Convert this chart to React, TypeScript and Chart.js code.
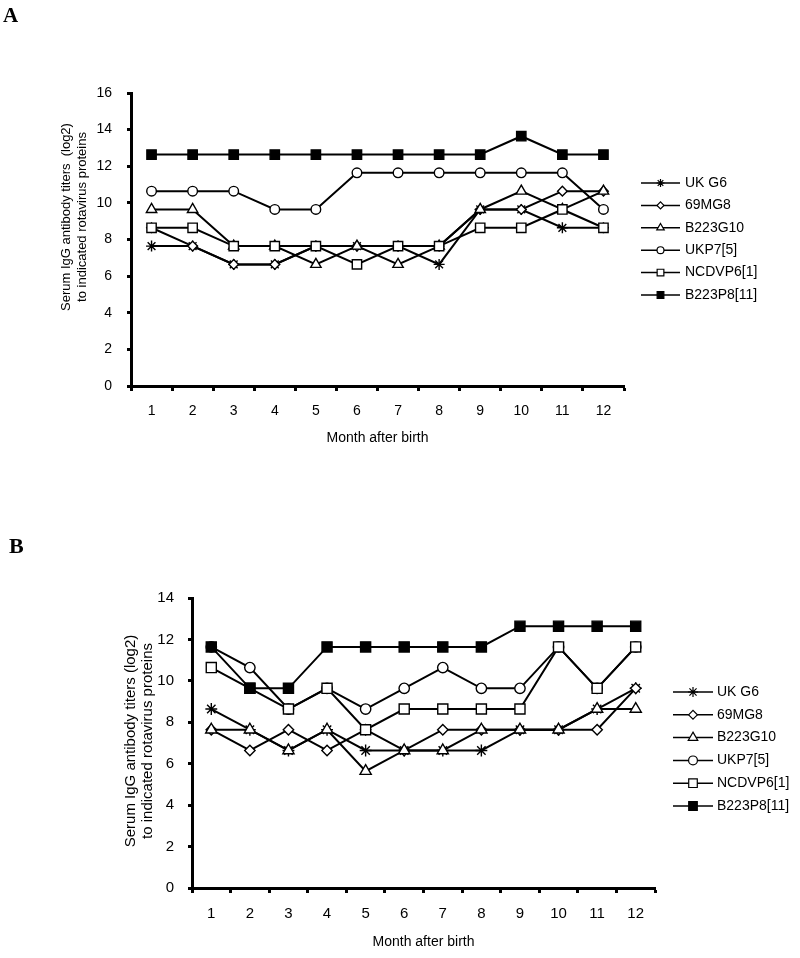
import React, { useEffect, useRef } from 'react';
import { Chart, registerables } from 'chart.js';
import { drawPoint } from 'chart.js/helpers';

Chart.register(...registerables);

const FONT = '"Liberation Sans", Arial, Helvetica, sans-serif';

// ---------- data ----------
const months = ['1', '2', '3', '4', '5', '6', '7', '8', '9', '10', '11', '12'];
const seriesNames = ['UK G6', '69MG8', 'B223G10', 'UKP7[5]', 'NCDVP6[1]', 'B223P8[11]'];
const yTitleLines = ['Serum IgG antibody titers  (log2)', 'to indicated rotavirus proteins'];
const xTitle = 'Month after birth';

// Panel A
const aUKG6 = [7.64, 7.64, 6.64, 6.64, 7.64, 7.64, 7.64, 6.64, 9.64, 9.64, 8.64, 8.64];
const a69MG8 = [8.64, 7.64, 6.64, 6.64, 7.64, 7.64, 7.64, 7.64, 9.64, 9.64, 10.64, 10.64];
const aB223G10 = [9.64, 9.64, 7.64, 7.64, 6.64, 7.64, 6.64, 7.64, 9.64, 10.64, 9.64, 10.64];
const aUKP7 = [10.64, 10.64, 10.64, 9.64, 9.64, 11.64, 11.64, 11.64, 11.64, 11.64, 11.64, 9.64];
const aNCDVP6 = [8.64, 8.64, 7.64, 7.64, 7.64, 6.64, 7.64, 7.64, 8.64, 8.64, 9.64, 8.64];
const aB223P8 = [12.64, 12.64, 12.64, 12.64, 12.64, 12.64, 12.64, 12.64, 12.64, 13.64, 12.64, 12.64];

// Panel B
const bUKG6 = [8.64, 7.64, 6.64, 7.64, 6.64, 6.64, 6.64, 6.64, 7.64, 7.64, 8.64, 9.64];
const b69MG8 = [7.64, 6.64, 7.64, 6.64, 7.64, 6.64, 7.64, 7.64, 7.64, 7.64, 7.64, 9.64];
const bB223G10 = [7.64, 7.64, 6.64, 7.64, 5.64, 6.64, 6.64, 7.64, 7.64, 7.64, 8.64, 8.64];
const bUKP7 = [11.64, 10.64, 8.64, 9.64, 8.64, 9.64, 10.64, 9.64, 9.64, 11.64, 9.64, 11.64];
const bNCDVP6 = [10.64, 9.64, 8.64, 9.64, 7.64, 8.64, 8.64, 8.64, 8.64, 11.64, 9.64, 11.64];
const bB223P8 = [11.64, 9.64, 9.64, 11.64, 11.64, 11.64, 11.64, 11.64, 12.64, 12.64, 12.64, 12.64];

const aYTicksMax = 16;
const bYTicksMax = 14;

// ---------- styles ----------
const markerStyles = [
  { pointStyle: 'star', radius: 5.5, fill: '#ffffff', order: 5 },
  { pointStyle: 'rectRot', radius: 4.8, fill: '#ffffff', order: 4 },
  { pointStyle: 'triangle', radius: 6, fill: '#ffffff', order: 3 },
  { pointStyle: 'circle', radius: 4.8, fill: '#ffffff', order: 2 },
  { pointStyle: 'rect', radius: 6.6, fill: '#ffffff', order: 1 },
  { pointStyle: 'rect', radius: 6.6, fill: '#000000', order: 0 },
];

const decorPlugin = {
  id: 'decor',
  afterDraw(chart: any, _args: any, opts: any) {
    const ctx = chart.ctx as CanvasRenderingContext2D;
    ctx.save();
    ctx.fillStyle = '#000';
    ctx.font = `${opts.yTitleSize}px ${FONT}`;
    ctx.textAlign = 'center';
    ctx.textBaseline = 'middle';
    (opts.yTitle as string[]).forEach((line, i) => {
      ctx.save();
      ctx.translate(opts.yTitleX[i], opts.yTitleY);
      ctx.rotate(-Math.PI / 2);
      ctx.fillText(line, 0, 0);
      ctx.restore();
    });
    chart.data.datasets.forEach((ds: any, i: number) => {
      const y = opts.legendY + i * opts.legendStep;
      const x0 = opts.legendX;
      const x1 = opts.legendX + opts.legendLen;
      ctx.strokeStyle = '#000';
      ctx.lineWidth = 1.5;
      ctx.beginPath();
      ctx.moveTo(x0, y);
      ctx.lineTo(x1, y);
      ctx.stroke();
      ctx.fillStyle = ds.pointBackgroundColor;
      ctx.strokeStyle = '#000';
      ctx.lineWidth = 1.2;
      drawPoint(
        ctx,
        { pointStyle: ds.pointStyle, radius: ds.pointRadius * opts.legendScale, borderWidth: 1.2, rotation: 0 } as any,
        (x0 + x1) / 2,
        y
      );
      ctx.fillStyle = '#000';
      ctx.textAlign = 'left';
      ctx.textBaseline = 'middle';
      ctx.font = `${opts.legendSize}px ${FONT}`;
      ctx.fillText(ds.label, x1 + opts.legendGap, y);
    });
    ctx.restore();
  },
};

function buildConfig(series: number[][], p: any): any {
  const datasets = series.map((vals, i) => {
    const m = markerStyles[i];
    return {
      label: seriesNames[i],
      data: vals,
      borderColor: '#000',
      borderWidth: 2,
      pointStyle: m.pointStyle,
      pointRadius: m.radius * p.markerScale,
      pointBackgroundColor: m.fill,
      pointBorderColor: '#000',
      pointBorderWidth: 1.4,
      tension: 0,
      fill: false,
      order: m.order,
    };
  });
  return {
    type: 'line',
    data: { labels: months, datasets },
    plugins: [decorPlugin],
    options: {
      responsive: false,
      maintainAspectRatio: false,
      animation: false,
      events: [],
      layout: { padding: { left: 0, right: p.padRight, top: p.padTop, bottom: 0 } },
      plugins: {
        legend: { display: false },
        tooltip: { enabled: false },
        decor: p.decor,
      },
      scales: {
        x: {
          type: 'category',
          offset: true,
          grid: {
            display: true,
            offset: true,
            drawOnChartArea: false,
            drawTicks: true,
            tickLength: 5,
            tickWidth: 3,
            tickColor: '#000',
          },
          border: { display: true, color: '#000', width: 3 },
          ticks: { color: '#000', font: { family: FONT, size: p.tickSize }, padding: p.xTickPad, maxRotation: 0, autoSkip: false },
          title: {
            display: true,
            text: xTitle,
            color: '#000',
            font: { family: FONT, size: 14 },
            padding: { top: 0, bottom: p.xTitlePad },
          },
          afterFit: (s: any) => {
            s.height = p.xAxisHeight;
          },
        },
        y: {
          min: 0,
          max: p.yMax,
          grid: {
            display: true,
            drawOnChartArea: false,
            drawTicks: true,
            tickLength: 4,
            tickWidth: 3,
            tickColor: '#000',
          },
          border: { display: true, color: '#000', width: 3 },
          ticks: { stepSize: 2, color: '#000', font: { family: FONT, size: p.tickSize }, padding: p.yTickPad },
          afterFit: (s: any) => {
            s.width = p.yAxisWidth;
          },
        },
      },
    },
  };
}

const panelA = {
  yMax: aYTicksMax,
  padRight: 176,
  padTop: 93,
  xAxisHeight: 94,
  yAxisWidth: 131,
  tickSize: 14,
  xTickPad: 12,
  yTickPad: 15,
  xTitlePad: 33,
  markerScale: 1,
  decor: {
    yTitle: yTitleLines,
    yTitleSize: 13,
    yTitleX: [66, 82],
    yTitleY: 217,
    legendX: 641,
    legendLen: 39,
    legendGap: 5,
    legendY: 183,
    legendStep: 22.4,
    legendSize: 14,
    legendScale: 0.72,
  },
};

const panelB = {
  yMax: bYTicksMax,
  padRight: 145,
  padTop: 118,
  xAxisHeight: 70,
  yAxisWidth: 192,
  tickSize: 15,
  xTickPad: 12,
  yTickPad: 14,
  xTitlePad: 7,
  markerScale: 1.08,
  decor: {
    yTitle: ['Serum IgG antibody titers (log2)', 'to indicated rotavirus proteins'],
    yTitleSize: 15,
    yTitleX: [131, 148],
    yTitleY: 261,
    legendX: 673,
    legendLen: 40,
    legendGap: 4,
    legendY: 212,
    legendStep: 22.8,
    legendSize: 14,
    legendScale: 0.85,
  },
};

export default function App() {
  const refA = useRef<HTMLCanvasElement>(null);
  const refB = useRef<HTMLCanvasElement>(null);

  useEffect(() => {
    const a = new Chart(refA.current as HTMLCanvasElement, buildConfig([aUKG6, a69MG8, aB223G10, aUKP7, aNCDVP6, aB223P8], panelA));
    const b = new Chart(refB.current as HTMLCanvasElement, buildConfig([bUKG6, b69MG8, bB223G10, bUKP7, bNCDVP6, bB223P8], panelB));
    return () => {
      a.destroy();
      b.destroy();
    };
  }, []);

  const labelStyle: React.CSSProperties = {
    position: 'absolute',
    fontFamily: '"Liberation Serif", "Times New Roman", serif',
    fontWeight: 'bold',
    lineHeight: 1,
    color: '#000',
  };

  return (
    <div style={{ position: 'absolute', left: 0, top: 0, width: 800, height: 958, background: '#fff', overflow: 'hidden' }}>
      <canvas ref={refA} width={800} height={480} style={{ position: 'absolute', left: 0, top: 0, width: 800, height: 480 }} />
      <canvas ref={refB} width={800} height={478} style={{ position: 'absolute', left: 0, top: 480, width: 800, height: 478 }} />
      <div style={{ ...labelStyle, left: 3, top: 5, fontSize: 21 }}>A</div>
      <div style={{ ...labelStyle, left: 9, top: 535, fontSize: 22 }}>B</div>
    </div>
  );
}
